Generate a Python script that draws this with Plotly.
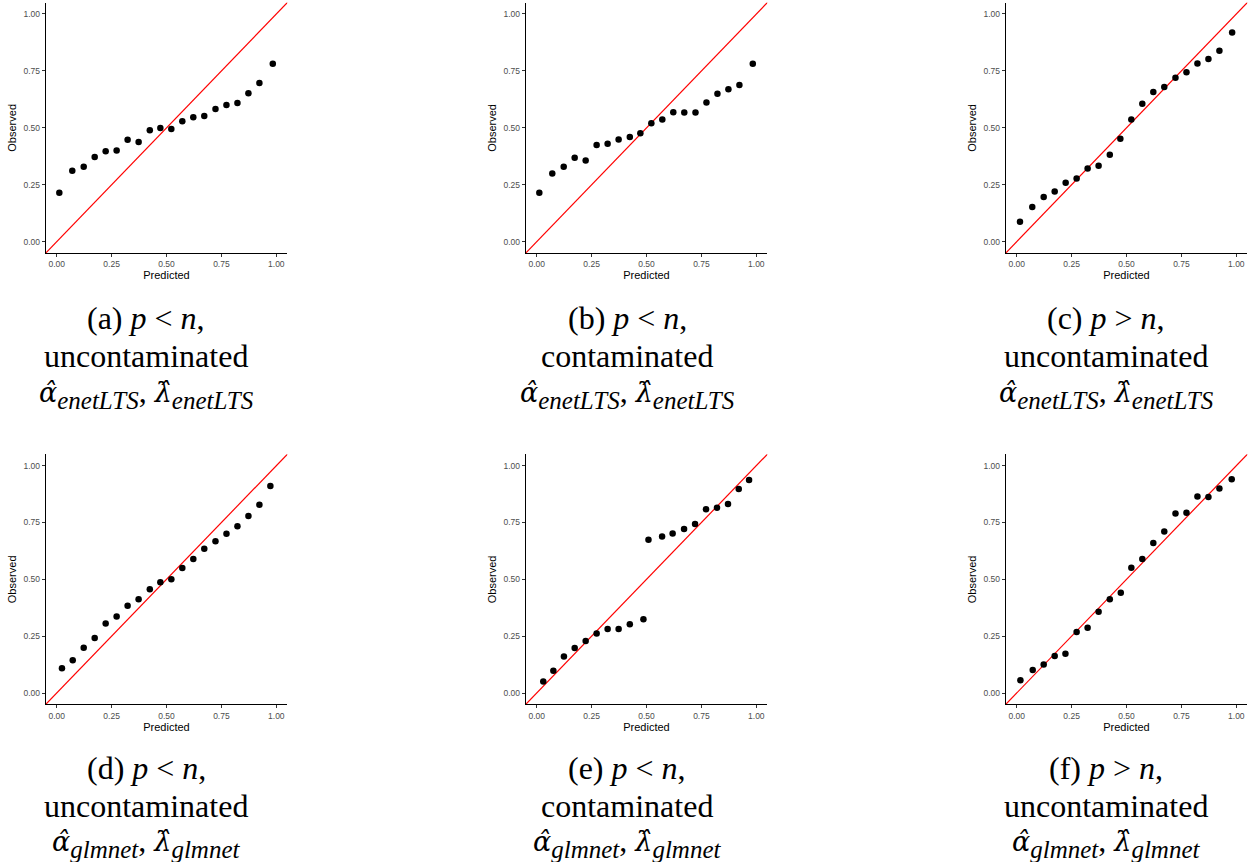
import plotly.graph_objects as go

W, H = 1252, 862

# ---- data ----
a_x = [0.012, 0.071, 0.123, 0.173, 0.223, 0.273, 0.323, 0.373, 0.424, 0.472,
       0.522, 0.572, 0.622, 0.672, 0.723, 0.773, 0.823, 0.873, 0.923, 0.984]
a_y = [0.215, 0.312, 0.329, 0.372, 0.397, 0.401, 0.448, 0.438, 0.490, 0.499,
       0.495, 0.529, 0.546, 0.552, 0.583, 0.600, 0.609, 0.652, 0.697, 0.782]

b_x = [0.012, 0.071, 0.123, 0.173, 0.223, 0.273, 0.323, 0.373, 0.424, 0.472,
       0.522, 0.572, 0.622, 0.672, 0.723, 0.773, 0.823, 0.873, 0.923, 0.984]
b_y = [0.215, 0.300, 0.329, 0.369, 0.357, 0.425, 0.430, 0.449, 0.460, 0.476,
       0.520, 0.537, 0.568, 0.567, 0.567, 0.611, 0.650, 0.669, 0.688, 0.782]

c_x = [0.015, 0.071, 0.123, 0.173, 0.223, 0.273, 0.323, 0.373, 0.424, 0.472,
       0.522, 0.572, 0.622, 0.672, 0.723, 0.773, 0.823, 0.873, 0.923, 0.981]
c_y = [0.088, 0.152, 0.196, 0.220, 0.259, 0.278, 0.322, 0.334, 0.382, 0.452,
       0.537, 0.606, 0.657, 0.679, 0.720, 0.744, 0.783, 0.802, 0.839, 0.919]

d_x = [0.024, 0.073, 0.123, 0.173, 0.223, 0.273, 0.323, 0.373, 0.424, 0.472,
       0.522, 0.572, 0.622, 0.672, 0.723, 0.773, 0.823, 0.873, 0.923, 0.973]
d_y = [0.109, 0.144, 0.199, 0.242, 0.306, 0.337, 0.384, 0.412, 0.457, 0.487,
       0.500, 0.550, 0.589, 0.635, 0.668, 0.701, 0.733, 0.779, 0.828, 0.911]

e_x = [0.030, 0.076, 0.124, 0.173, 0.223, 0.273, 0.323, 0.373, 0.424, 0.486,
       0.509, 0.571, 0.619, 0.671, 0.721, 0.771, 0.821, 0.871, 0.920, 0.967]
e_y = [0.051, 0.098, 0.161, 0.198, 0.229, 0.262, 0.282, 0.282, 0.302, 0.324,
       0.674, 0.689, 0.702, 0.721, 0.743, 0.808, 0.815, 0.831, 0.897, 0.937]

f_x = [0.017, 0.073, 0.123, 0.173, 0.222, 0.273, 0.323, 0.373, 0.424, 0.474,
       0.522, 0.572, 0.622, 0.672, 0.723, 0.773, 0.823, 0.873, 0.923, 0.979]
f_y = [0.056, 0.101, 0.126, 0.163, 0.173, 0.268, 0.287, 0.358, 0.412, 0.441,
       0.551, 0.589, 0.660, 0.711, 0.790, 0.793, 0.864, 0.862, 0.900, 0.940]

tick_vals = [0.0, 0.25, 0.5, 0.75, 1.0]
tick_text = ["0.00", "0.25", "0.50", "0.75", "1.00"]
diag = [-0.1, 1.1]

DV = "font-family:'DejaVu Serif';font-size:27px"
ALPHA = f"<span style=\"{DV}\"><i>\u03b1\u0302</i></span>"
LAMBDA = f"<span style=\"{DV}\"><i>\u03bb\u0302</i></span>"
SUBSTYLE = "font-size:25px"


def est_line(sub):
    s = f"<sub><span style=\"{SUBSTYLE}\"><i>{sub}</i></span></sub>"
    return f"{ALPHA}{s}, {LAMBDA}{s}"


captions = [
    ["(a) <i>p</i> &lt; <i>n</i>,", "uncontaminated", est_line("enetLTS")],
    ["(b) <i>p</i> &lt; <i>n</i>,", "contaminated", est_line("enetLTS")],
    ["(c) <i>p</i> &gt; <i>n</i>,", "uncontaminated", est_line("enetLTS")],
    ["(d) <i>p</i> &lt; <i>n</i>,", "uncontaminated", est_line("glmnet")],
    ["(e) <i>p</i> &lt; <i>n</i>,", "contaminated", est_line("glmnet")],
    ["(f) <i>p</i> &gt; <i>n</i>,", "uncontaminated", est_line("glmnet")],
]

panels = [(a_x, a_y), (b_x, b_y), (c_x, c_y), (d_x, d_y), (e_x, e_y), (f_x, f_y)]

# ---- layout geometry (pixels) ----
col_left = [45.7, 525.7, 1005.7]
plot_w = 241.6
row_top = [2.6, 454.3]
plot_h = [250.5, 250.1]
cap_cx = [146, 627, 1106]
cap_y = [[318, 356, 393], [768, 806, 842]]

fig = go.Figure()
layout = dict(
    width=W, height=H,
    margin=dict(l=0, r=0, t=0, b=0),
    paper_bgcolor="white", plot_bgcolor="white",
    showlegend=False,
    font=dict(family="Liberation Sans, Arial, sans-serif"),
)
annotations = []

for i, (px, py) in enumerate(panels):
    r, c = divmod(i, 3)
    n = i + 1
    xa = "x" if n == 1 else f"x{n}"
    ya = "y" if n == 1 else f"y{n}"
    fig.add_trace(go.Scatter(x=diag, y=diag, mode="lines",
                             line=dict(color="#FF0000", width=1.2),
                             xaxis=xa, yaxis=ya, hoverinfo="skip"))
    fig.add_trace(go.Scatter(x=px, y=py, mode="markers",
                             marker=dict(color="black", size=6.5),
                             xaxis=xa, yaxis=ya))
    x0 = col_left[c] / W
    x1 = (col_left[c] + plot_w) / W
    y1 = 1 - row_top[r] / H
    y0 = 1 - (row_top[r] + plot_h[r]) / H
    common = dict(
        showgrid=False, zeroline=False,
        showline=True, linecolor="black", linewidth=1,
        ticks="outside", ticklen=3, tickwidth=1, tickcolor="#333333",
        tickvals=tick_vals, ticktext=tick_text,
        tickfont=dict(size=8.5, color="#4D4D4D"),
        range=[-0.05, 1.05], fixedrange=True,
    )
    layout["xaxis" if n == 1 else f"xaxis{n}"] = dict(
        common, domain=[x0, x1], anchor=ya,
        title=dict(text="Predicted", font=dict(size=11, color="black"), standoff=3),
    )
    layout["yaxis" if n == 1 else f"yaxis{n}"] = dict(
        common, domain=[y0, y1], anchor=xa,
        title=dict(text="Observed", font=dict(size=11, color="black"), standoff=4),
    )
    for k, line in enumerate(captions[i]):
        annotations.append(dict(
            text=line, xref="paper", yref="paper",
            x=cap_cx[c] / W, y=1 - cap_y[r][k] / H,
            xanchor="center", yanchor="middle", showarrow=False,
            font=dict(family="Liberation Serif, Times New Roman, serif",
                      size=32, color="black"),
        ))

layout["annotations"] = annotations
fig.update_layout(**layout)
fig.write_html("out.html")
